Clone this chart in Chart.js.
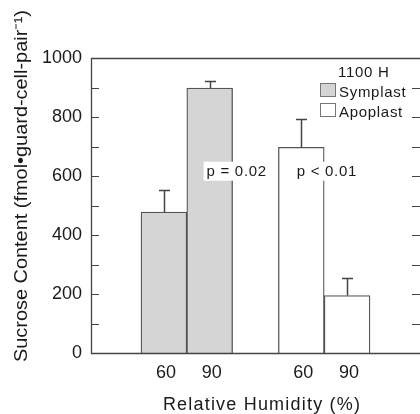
<!DOCTYPE html>
<html><head><meta charset="utf-8">
<script src="https://cdn.jsdelivr.net/npm/chart.js@4.4.0/dist/chart.umd.min.js"></script>
<style>html,body{margin:0;padding:0;background:#fff;} #wrap{width:420px;height:414px;position:relative;}</style>
</head><body><div id="wrap"><canvas id="c" width="420" height="414"></canvas></div>
<script>
// ---- data ----
const categories = ['60', '90', '60', '90'];
const xPositions = [1, 2, 4, 5];
const seriesNames = ['Symplast', 'Apoplast'];
const symplastX = [1, 2];
const symplastValues = [478, 898];
const symplastErrors = [75, 25];
const apoplastX = [4, 5];
const apoplastValues = [697, 195];
const apoplastErrors = [95, 60];
const yTickLabels = [0, 200, 400, 600, 800, 1000];
const yMinorTicks = [100, 300, 500, 700, 900];
const legendTitle = '1100 H';
const pLabels = ['p = 0.02', 'p < 0.01'];
const pLabelX = [2.59, 4.56];
const pLabelY = [601, 601];
const xTitle = 'Relative Humidity (%)';
const yTitle = 'Sucrose Content (fmol\u2022guard-cell-pair\u207B\u00B9)';

const FONT = '"Liberation Sans", Arial, Helvetica, sans-serif';
const INK = '#1a1a1a';
const LINE = '#444';
const GRAY = '#d5d5d5';

const errorSets = [[symplastValues, symplastErrors], [apoplastValues, apoplastErrors]];

const decor = {
  id: 'decor',
  afterDatasetsDraw(chart) {
    const { ctx, chartArea: a, scales: { x, y } } = chart;
    ctx.save();
    // error bars
    ctx.strokeStyle = LINE; ctx.lineWidth = 1.5;
    errorSets.forEach(([vals, errs], i) => {
      chart.getDatasetMeta(i).data.forEach((el, j) => {
        const xp = Math.round(el.x) + 0.5;
        const y0 = y.getPixelForValue(vals[j]);
        const y1 = Math.round(y.getPixelForValue(vals[j] + errs[j])) + 0.5;
        ctx.beginPath();
        ctx.moveTo(xp, y0); ctx.lineTo(xp, y1);
        ctx.moveTo(xp - 5.5, y1); ctx.lineTo(xp + 5.5, y1);
        ctx.stroke();
      });
    });
    // frame (top, left, bottom)
    ctx.strokeStyle = LINE; ctx.lineWidth = 1.3;
    ctx.beginPath();
    ctx.moveTo(a.right + 2, a.top + 0.5); ctx.lineTo(a.left + 0.5, a.top + 0.5);
    ctx.lineTo(a.left + 0.5, a.bottom + 0.5); ctx.lineTo(a.right + 2, a.bottom + 0.5);
    ctx.stroke();
    // inward ticks left and right
    ctx.lineWidth = 1.2;
    yTickLabels.concat(yMinorTicks).forEach(v => {
      if (v === 0 || v === 1000) return;
      const yp = Math.round(y.getPixelForValue(v)) + 0.5;
      ctx.beginPath();
      ctx.moveTo(a.left, yp); ctx.lineTo(a.left + 8, yp);
      ctx.moveTo(a.right - 8, yp); ctx.lineTo(a.right, yp);
      ctx.stroke();
    });
    // p-value labels
    ctx.font = '15px ' + FONT;
    try { ctx.letterSpacing = '0.7px'; } catch (e) {}
    ctx.textAlign = 'left'; ctx.textBaseline = 'alphabetic';
    pLabels.forEach((t, i) => {
      const w = ctx.measureText(t).width;
      const cx = x.getPixelForValue(pLabelX[i]);
      const by = y.getPixelForValue(pLabelY[i]);
      ctx.fillStyle = '#fff';
      ctx.fillRect(cx - w / 2 - 3, by - 14, w + 6, 19);
      ctx.fillStyle = INK;
      ctx.fillText(t, cx - w / 2, by);
    });
    // legend
    ctx.fillStyle = INK;
    ctx.fillText(legendTitle, 338, 77);
    const swatches = [GRAY, '#fff'];
    seriesNames.forEach((n, i) => {
      const top = 83 + i * 20;
      ctx.fillStyle = swatches[i];
      ctx.fillRect(320, top, 16, 14);
      ctx.strokeStyle = '#777'; ctx.lineWidth = 1;
      ctx.strokeRect(320.5, top + 0.5, 15, 13);
      ctx.fillStyle = INK;
      ctx.fillText(n, 339, top + 13.5);
    });
    // axis titles
    ctx.font = '18px ' + FONT;
    try { ctx.letterSpacing = '1.2px'; } catch (e) {}
    ctx.textAlign = 'center';
    ctx.fillText(xTitle, 262, 410);
    try { ctx.letterSpacing = '0px'; } catch (e) {}
    ctx.font = '18.5px ' + FONT;
    ctx.textAlign = 'left';
    ctx.translate(27, 362);
    ctx.rotate(-Math.PI / 2);
    const w = ctx.measureText(yTitle).width;
    ctx.scale(352 / w, 1);
    ctx.fillText(yTitle, 0, 0);
    ctx.restore();
  }
};

new Chart(document.getElementById('c'), {
  type: 'bar',
  data: {
    datasets: [
      {
        label: seriesNames[0],
        data: symplastX.map((v, i) => ({ x: v, y: symplastValues[i] })),
        backgroundColor: GRAY, borderColor: '#555', borderWidth: 1.3,
        barPercentage: 1, categoryPercentage: 1, grouped: false
      },
      {
        label: seriesNames[1],
        data: apoplastX.map((v, i) => ({ x: v, y: apoplastValues[i] })),
        backgroundColor: '#fff', borderColor: '#555', borderWidth: 1.3,
        barPercentage: 1, categoryPercentage: 1, grouped: false
      }
    ]
  },
  options: {
    responsive: false, animation: false, devicePixelRatio: 1,
    layout: { padding: { top: 58, right: 0, left: 0, bottom: 0 } },
    plugins: { legend: { display: false }, tooltip: { enabled: false } },
    scales: {
      x: {
        type: 'linear', min: -0.592, max: 6.592, offset: false,
        afterBuildTicks: s => { s.ticks = xPositions.map(v => ({ value: v })); },
        afterFit: s => { s.height = 61; },
        grid: { display: false, drawTicks: false, offset: false },
        border: { display: false },
        ticks: {
          autoSkip: false, maxRotation: 0, padding: 9, labelOffset: 2,
          color: INK, font: { family: FONT, size: 18 },
          callback: v => categories[xPositions.indexOf(v)]
        }
      },
      y: {
        min: 0, max: 1000,
        afterBuildTicks: s => { s.ticks = yTickLabels.map(v => ({ value: v })); },
        afterFit: s => { s.width = 91; },
        grid: { display: false, drawTicks: false },
        border: { display: false },
        ticks: { padding: 9, color: INK, font: { family: FONT, size: 18 }, callback: v => String(v) }
      }
    }
  },
  plugins: [decor]
});
</script></body></html>
